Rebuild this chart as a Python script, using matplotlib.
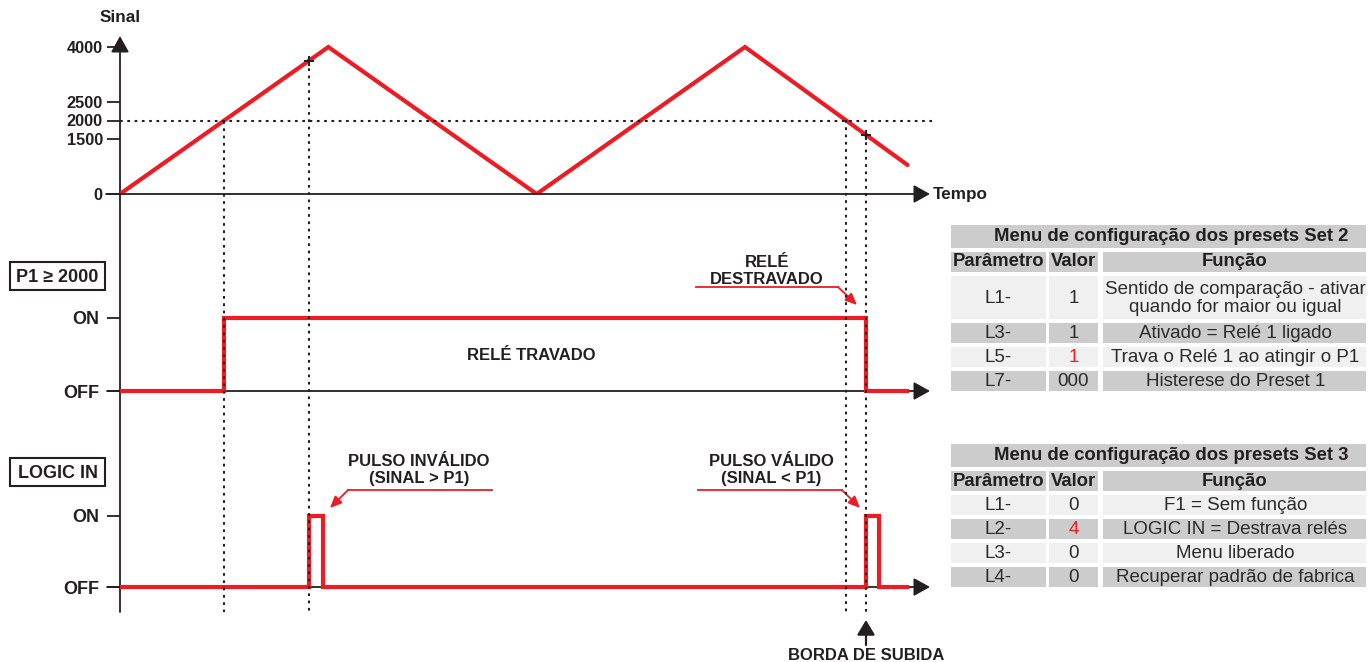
import matplotlib
matplotlib.use('Agg')
import matplotlib.pyplot as plt
import numpy as np
from matplotlib.patches import Rectangle

# ---------------- data ----------------
time_pts = [0, 10, 20, 30, 37.8]
signal_pts = [0, 4000, 0, 4000, 790]
signal_ticks = [0, 1500, 2000, 2500, 4000]
P1 = 2000
relay_t = [0, 5.0, 35.8, 37.8]
relay_state = [0, 1, 0, 0]
logic_t = [0, 9.07, 9.73, 35.8, 36.45, 37.8]
logic_state = [0, 1, 0, 1, 0, 0]
guide_t = [5.0, 9.07, 34.85, 35.8]
marker_t = [9.07, 35.8]
state_ticks = [0, 1]
state_labels = ['OFF', 'ON']

set2_title = 'Menu de configuração dos presets Set 2'
set2_params = ['L1-', 'L3-', 'L5-', 'L7-']
set2_values = ['1', '1', '1', '000']
set2_funcs = ['Sentido de comparação - ativar\nquando for maior ou igual',
              'Ativado = Relé 1 ligado',
              'Trava o Relé 1 ao atingir o P1',
              'Histerese do Preset 1']
set2_highlight = [False, False, True, False]

set3_title = 'Menu de configuração dos presets Set 3'
set3_params = ['L1-', 'L2-', 'L3-', 'L4-']
set3_values = ['0', '4', '0', '0']
set3_funcs = ['F1 = Sem função', 'LOGIC IN = Destrava relés',
              'Menu liberado', 'Recuperar padrão de fabrica']
set3_highlight = [False, True, False, False]
header = ['Parâmetro', 'Valor', 'Função']

# ---------------- style ----------------
RED = '#ed1c24'
INK = '#231f20'
GRAY = '#cccccc'
LIGHT = '#f0f0f0'
plt.rcParams['font.family'] = ['Liberation Sans', 'DejaVu Sans']

W, H = 1368, 662
fig = plt.figure(figsize=(W / 100, H / 100), dpi=100)

canvas = fig.add_axes([0, 0, 1, 1])
canvas.set_xlim(0, W)
canvas.set_ylim(H, 0)
canvas.axis('off')


def pax(l, t, r, b):
    a = fig.add_axes([l / W, 1 - b / H, (r - l) / W, (b - t) / H])
    a.patch.set_alpha(0)
    for s in a.spines.values():
        s.set_visible(False)
    a.set_xticks([])
    return a


PX_PER_T = 625 / 30.0
TMAX = 810 / PX_PER_T
arrow_kw = dict(arrowstyle='-|>,head_length=0.45,head_width=0.25', color=INK,
                lw=1.3, mutation_scale=22, shrinkA=0, shrinkB=0)

# ---- signal panel ----
ax1 = pax(120, 36, 930, 194)
YTOP = 4000 * 158 / 147
ax1.set_xlim(0, TMAX)
ax1.set_ylim(0, YTOP)
ax1.set_zorder(5)
ax1.plot(time_pts, signal_pts, color=RED, lw=3, solid_joinstyle='miter',
         solid_capstyle='round', zorder=3)
ax1.set_yticks(signal_ticks)
ax1.set_yticklabels([str(v) for v in signal_ticks], fontweight='bold')
ax1.tick_params(axis='y', length=9.4, width=1.3, color=INK, pad=3,
                labelsize=11.8, labelcolor=INK)
ax1.annotate('', xy=(TMAX, 0), xytext=(-0.67, 0), arrowprops=arrow_kw,
             annotation_clip=False)
YBOT = -(612 - 194) / 158 * YTOP
dot_kw = dict(color=INK, lw=1.5, linestyle=(0, (1.3, 2.2)), clip_on=False, zorder=6)
ax1.plot([0, TMAX + 0.1], [P1, P1], **dot_kw)
for t in guide_t:
    v = np.interp(t, time_pts, signal_pts)
    ax1.plot([t, t], [v, YBOT], **dot_kw)
for t in marker_t:
    v = np.interp(t, time_pts, signal_pts)
    ax1.plot([t], [v], marker='+', ms=7, mew=1.4, color=INK, zorder=7)

# ---- relay panel ----
ax2 = pax(120, 300, 930, 400)
ax2.set_xlim(0, TMAX)
ax2.set_ylim(-9 / 73, 1 + 18 / 73)
ax2.annotate('', xy=(TMAX, 0), xytext=(-0.62, 0), arrowprops=arrow_kw,
             annotation_clip=False)
ax2.plot(relay_t, relay_state, drawstyle='steps-post', color=RED, lw=3,
         solid_joinstyle='miter', zorder=3)

# ---- logic panel ----
ax3 = pax(120, 500, 930, 600)
ax3.set_xlim(0, TMAX)
ax3.set_ylim(-13 / 71, 1 + 16 / 71)
ax3.annotate('', xy=(TMAX, 0), xytext=(-0.62, 0), arrowprops=arrow_kw,
             annotation_clip=False)
ax3.plot(logic_t, logic_state, drawstyle='steps-post', color=RED, lw=3,
         solid_joinstyle='miter', zorder=3)

for a in (ax2, ax3):
    a.set_yticks(state_ticks)
    a.set_yticklabels(state_labels, fontweight='bold')
    a.tick_params(axis='y', length=9.4, width=1.3, color=INK, pad=5.5,
                  labelsize=13, labelcolor=INK)

# ---- vertical axis line ----
canvas.annotate('', xy=(120, 36), xytext=(120, 612), arrowprops=arrow_kw)
canvas.text(120, 18, 'Sinal', ha='center', va='center', fontsize=12.3,
            fontweight='bold', color=INK)
canvas.text(933, 194, 'Tempo', ha='left', va='center', fontsize=12.3,
            fontweight='bold', color=INK)

# ---- boxed labels ----
for (y0, y1, txt) in [(262, 290, 'P1 ≥ 2000'), (458, 486, 'LOGIC IN')]:
    canvas.add_patch(Rectangle((10, y0), 95, y1 - y0, fill=False, ec=INK, lw=1.5))
    canvas.text(57.5, (y0 + y1) / 2 + 1, txt, ha='center', va='center',
                fontsize=13, fontweight='bold', color=INK)

lab_kw = dict(ha='center', va='center', fontsize=12, fontweight='bold',
              color=INK, linespacing=1.2)
canvas.text(531, 356, 'RELÉ TRAVADO', **lab_kw)
canvas.text(767, 271, 'RELÉ\nDESTRAVADO', **lab_kw)
canvas.text(419, 470, 'PULSO INVÁLIDO\n(SINAL > P1)', **lab_kw)
canvas.text(771, 470, 'PULSO VÁLIDO\n(SINAL < P1)', **lab_kw)
canvas.text(866, 655, 'BORDA DE SUBIDA', **lab_kw)

red_arrow = dict(arrowstyle='-|>,head_length=0.5,head_width=0.22', color=RED,
                 lw=1.3, mutation_scale=14, shrinkA=0, shrinkB=0)
for (xs, ys, tip) in [((696, 838), (287, 287), (857, 305)),
                      ((492, 348), (490, 490), (330, 508)),
                      ((698, 842), (490, 490), (860, 508))]:
    canvas.plot(xs, ys, color=RED, lw=1.3)
    canvas.annotate('', xy=tip, xytext=(xs[1], ys[1]), arrowprops=red_arrow)

canvas.annotate('', xy=(866, 620), xytext=(866, 645),
                arrowprops=dict(arrowstyle='-|>,head_length=0.45,head_width=0.27',
                                color=INK, lw=1.6, mutation_scale=20,
                                shrinkA=0, shrinkB=0))

# ---- tables ----
COLS = [(951, 1046), (1049, 1098), (1103, 1366)]


def draw_table(title, title_rows, header_rows, rows, params, values, funcs, hl):
    ty0, ty1 = title_rows
    canvas.add_patch(Rectangle((951, ty0), 1366 - 951, ty1 - ty0, color=GRAY, lw=0))
    canvas.text(1171, (ty0 + ty1) / 2, title, ha='center', va='center',
                fontsize=13.3, fontweight='bold', color=INK)
    hy0, hy1 = header_rows
    for (x0, x1), h in zip(COLS, header):
        canvas.add_patch(Rectangle((x0, hy0), x1 - x0, hy1 - hy0, color=GRAY, lw=0))
        canvas.text((x0 + x1) / 2, (hy0 + hy1) / 2, h, ha='center', va='center',
                    fontsize=13.3, fontweight='bold', color=INK)
    for i, ((ry0, ry1), p, v, f, h) in enumerate(zip(rows, params, values, funcs, hl)):
        bg = LIGHT if i % 2 == 0 else GRAY
        cells = [p, v, f]
        for j, ((x0, x1), txt) in enumerate(zip(COLS, cells)):
            canvas.add_patch(Rectangle((x0, ry0), x1 - x0, ry1 - ry0, color=bg, lw=0))
            col = RED if (j == 1 and h) else '#2b2b2b'
            canvas.text((x0 + x1) / 2 + (1 if j == 2 else 0), (ry0 + ry1) / 2 + 1, txt,
                        ha='center', va='center', fontsize=13.5, color=col,
                        linespacing=1.0)


draw_table(set2_title, (225, 248), (252, 272),
           [(276, 319), (323, 343), (347, 367), (371, 391)],
           set2_params, set2_values, set2_funcs, set2_highlight)
draw_table(set3_title, (444, 467), (471, 491),
           [(495, 515), (519, 539), (543, 563), (567, 587)],
           set3_params, set3_values, set3_funcs, set3_highlight)

fig.savefig('out.png', dpi=100)
